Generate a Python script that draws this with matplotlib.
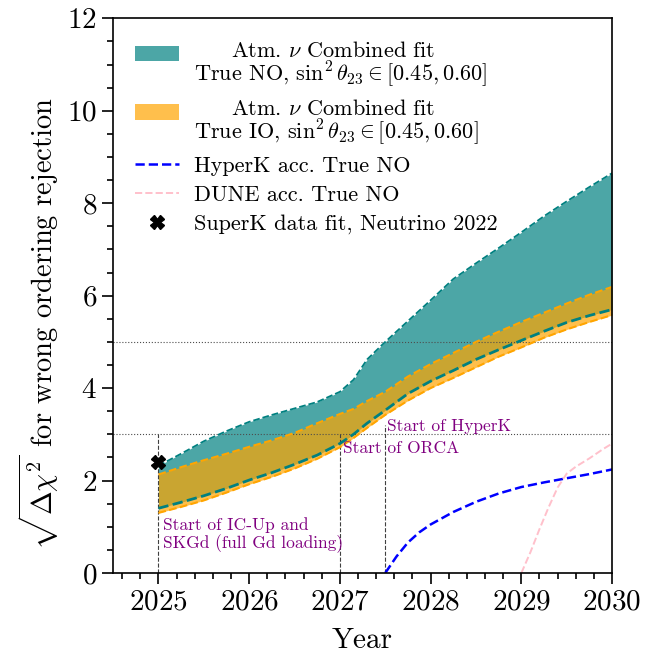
import numpy as np
import matplotlib
matplotlib.use("Agg")
import matplotlib.pyplot as plt
import matplotlib.patches as mpatches
from matplotlib.legend_handler import HandlerPatch
from matplotlib.ticker import MultipleLocator

plt.rcParams["font.family"] = "serif"
plt.rcParams["font.serif"] = ["cmr10"]
plt.rcParams["mathtext.fontset"] = "cm"
plt.rcParams["axes.unicode_minus"] = False
plt.rcParams["axes.formatter.use_mathtext"] = True

# Years of combined atmospheric-neutrino sensitivity
years = [2025, 2025.25, 2025.5, 2025.75, 2026, 2026.25, 2026.5, 2026.75, 2027,
         2027.15, 2027.3, 2027.5, 2027.75, 2028, 2028.25, 2028.5, 2028.75,
         2029, 2029.25, 2029.5, 2029.75, 2030]

# True NO band (sin^2 theta23 in [0.45, 0.60])
no_high = [2.32, 2.58, 2.85, 3.07, 3.27, 3.42, 3.56, 3.70, 3.92,
           4.18, 4.62, 5.00, 5.45, 5.90, 6.36, 6.70, 7.03,
           7.37, 7.72, 8.04, 8.35, 8.65]
no_low = [1.40, 1.53, 1.67, 1.83, 2.01, 2.17, 2.35, 2.55, 2.80,
          3.00, 3.24, 3.52, 3.88, 4.15, 4.38, 4.62, 4.83,
          5.03, 5.23, 5.42, 5.57, 5.70]

# True IO band
io_high = [2.13, 2.29, 2.44, 2.58, 2.73, 2.87, 3.03, 3.24, 3.44,
           3.55, 3.72, 3.92, 4.25, 4.52, 4.76, 5.00, 5.22,
           5.43, 5.63, 5.83, 6.02, 6.19]
io_low = [1.30, 1.43, 1.57, 1.74, 1.92, 2.08, 2.26, 2.47, 2.72,
          2.92, 3.14, 3.42, 3.73, 4.00, 4.22, 4.45, 4.68,
          4.88, 5.09, 5.27, 5.43, 5.58]

# Accelerator experiments, True NO
hk_years = [2027.5, 2027.625, 2027.75, 2027.875, 2028, 2028.25, 2028.5,
            2028.75, 2029, 2029.25, 2029.5, 2029.75, 2030]
hk_sens = [0.0, 0.36, 0.66, 0.88, 1.05, 1.32, 1.54, 1.72, 1.86, 1.96, 2.05, 2.14, 2.24]

dune_years = [2029.0, 2029.1, 2029.2, 2029.3, 2029.4, 2029.5, 2029.6, 2029.75, 2029.9, 2030]
dune_sens = [0.0, 0.45, 0.95, 1.42, 1.85, 2.15, 2.30, 2.48, 2.68, 2.80]

# SuperK result
sk_year = [2025.0]
sk_sens = [2.4]

# Milestones
milestone_years = [2025.0, 2027.0, 2027.5]
milestone_tops = [3.0, 3.0, 3.2]
sigma_levels = [3, 5]

teal = "teal"
orange = "orange"

fig = plt.figure(figsize=(6.46, 6.53), dpi=100)
ax = fig.add_axes([0.175, 0.1225, 0.7725, 0.8495])

ax.fill_between(years, no_low, no_high, color=teal, alpha=0.7, lw=0)
ax.plot(years, no_high, color=teal, ls="--", lw=1.3)
ax.plot(years, no_low, color=teal, ls="--", lw=2)

ax.fill_between(years, io_low, io_high, color=orange, alpha=0.7, lw=0)
ax.plot(years, io_high, color=orange, ls="--", lw=1.5)
ax.plot(years, io_low, color=orange, ls="--", lw=1.5)

hk_line, = ax.plot(hk_years, hk_sens, color="blue", ls="--", lw=1.8)
dune_line, = ax.plot(dune_years, dune_sens, color="pink", ls="--", lw=1.4)
sk_mark, = ax.plot(sk_year, sk_sens, ls="none", marker="X", color="black", ms=10, zorder=5)

for lvl in sigma_levels:
    ax.axhline(lvl, color="0.3", ls=":", lw=0.8, zorder=1)
for yr, top in zip(milestone_years, milestone_tops):
    ax.vlines(yr, 0, top, color="0.25", ls="--", lw=0.8, zorder=1)

ax.text(2025.05, 1.2, "Start of IC-Up and\nSKGd (full Gd loading)", color="purple",
        fontsize=12.5, va="top", ha="left", linespacing=1.1)
ax.text(2027.03, 2.7, "Start of ORCA", color="purple", fontsize=12.5, va="center", ha="left")
ax.text(2027.52, 3.18, "Start of HyperK", color="purple", fontsize=12.5, va="center", ha="left")

ax.set_xlim(2024.5, 2030)
ax.set_ylim(0, 12)
ax.xaxis.set_major_locator(MultipleLocator(1))
ax.xaxis.set_minor_locator(MultipleLocator(0.2))
ax.yaxis.set_major_locator(MultipleLocator(2))
ax.yaxis.set_minor_locator(MultipleLocator(0.5))
ax.tick_params(which="both", direction="out", top=False, right=False, labelsize=21, width=1.2)
ax.tick_params(which="major", length=8)
ax.tick_params(which="minor", length=4)
for s in ax.spines.values():
    s.set_linewidth(1.2)

ax.set_xlabel("Year", fontsize=21, labelpad=9)
ax.set_ylabel("$\\sqrt{\\Delta\\chi^2}$ for wrong ordering rejection", fontsize=20.5)
ax.yaxis.set_label_coords(-0.105, 0.45)


def top_patch(legend, orig_handle, xdescent, ydescent, width, height, fontsize):
    # band swatch sits level with the first line of a two-line label
    return mpatches.Rectangle((-xdescent, -ydescent + 0.5 * fontsize), width, height)


no_patch = mpatches.Patch(color=teal, alpha=0.7, lw=0)
io_patch = mpatches.Patch(color=orange, alpha=0.7, lw=0)
handles = [no_patch, io_patch, hk_line, dune_line, sk_mark]
labels = ["     Atm. $\\nu$ Combined fit\nTrue NO, $\\sin^2\\theta_{23}\\in[0.45,0.60]$",
          "     Atm. $\\nu$ Combined fit\nTrue IO, $\\sin^2\\theta_{23}\\in[0.45,0.60]$",
          "HyperK acc. True NO",
          "DUNE acc. True NO",
          "SuperK data fit, Neutrino 2022"]
hmap = {no_patch: HandlerPatch(patch_func=top_patch),
        io_patch: HandlerPatch(patch_func=top_patch)}
leg = ax.legend(handles, labels, handler_map=hmap, loc="upper left", frameon=False,
                fontsize=16, handlelength=1.95, handletextpad=0.7,
                labelspacing=0.42, borderaxespad=0.6)
for t in leg.get_texts():
    t.set_linespacing(0.95)

fig.savefig("out.png", dpi=100)
